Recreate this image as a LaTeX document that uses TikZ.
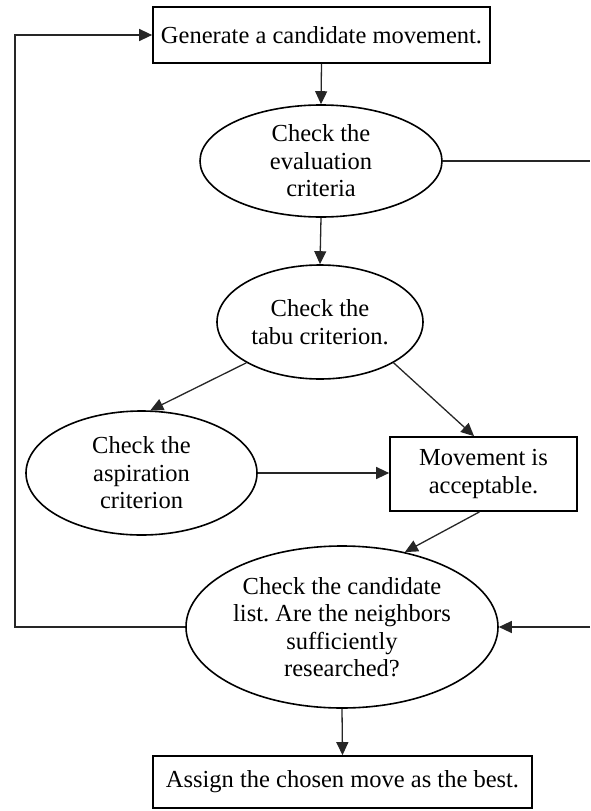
\documentclass[tikz,border=0pt]{standalone}
\usepackage{fontspec}
\setmainfont{Liberation Serif}
\usetikzlibrary{shapes.geometric,arrows.meta}
\frenchspacing
\begin{document}
\begin{tikzpicture}[x=1pt,y=-1pt,
  every node/.style={font=\fontsize{24.5}{27.5}\selectfont, align=center, inner sep=0pt},
  boxnode/.style={draw, rectangle, line width=1.7pt},
  ellnode/.style={draw, ellipse, line width=1.6pt},
  conn/.style={line width=1.3pt, draw=black!85},
  arr/.style={conn, -{Triangle[length=13pt,width=12pt]}}]
\useasboundingbox (0,0) rectangle (590,811);
\node[boxnode, minimum width=337pt, minimum height=56pt] (b1) at (321.5,35) {Generate a candidate movement.};
\node[ellnode, minimum width=242pt, minimum height=112pt] (e1) at (321,161) {Check the\\evaluation\\criteria};
\node[ellnode, minimum width=206pt, minimum height=114pt] (e2) at (320,322) {Check the\\tabu criterion.};
\node[ellnode, minimum width=231pt, minimum height=124pt] (e3) at (141.5,473) {Check the\\aspiration\\criterion};
\node[boxnode, minimum width=187pt, minimum height=74pt] (b2) at (483.5,474) {Movement is\\acceptable.};
\node[ellnode, minimum width=312pt, minimum height=162pt] (e4) at (342,627) {Check the candidate\\list. Are the neighbors\\sufficiently\\researched?};
\node[boxnode, minimum width=379pt, minimum height=52pt] (b3) at (342.5,782) {Assign the chosen move as the best.};
\coordinate (lft) at (15,0);
\coordinate (rgt) at (590,0);
\draw[arr] (b1.south) -- (e1.north);
\draw[arr] (e1.south) -- (e2.north);
\draw[conn] (e1.east) -- (e1.east -| rgt);
\draw[arr] (e2.209) -- (e3.82);
\draw[arr] (e2.331) -- (b2.104);
\draw[arr] (e3.east) -- (e3.east -| b2.west);
\draw[arr] (b2.264.6) -- (e4.50.5);
\draw[arr] (e4.east -| rgt) -- (e4.east);
\draw[arr] (e4.west) -| (lft |- b1.west) -- (b1.west);
\draw[arr] (e4.south) -- (b3.north);
\end{tikzpicture}
\end{document}
